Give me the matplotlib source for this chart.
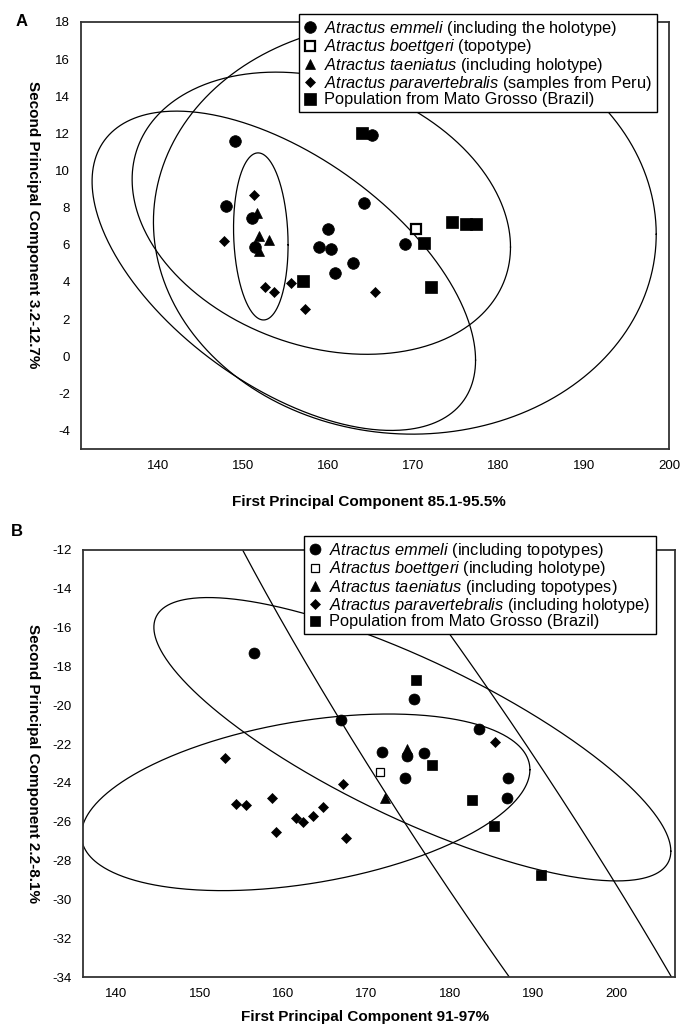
import numpy as np
import matplotlib
matplotlib.use('Agg')
import matplotlib.pyplot as plt

plt.rcParams['font.family'] = ['Liberation Sans', 'DejaVu Sans']
plt.rcParams['mathtext.fontset'] = 'custom'
plt.rcParams['mathtext.rm'] = 'Liberation Sans'
plt.rcParams['mathtext.it'] = 'Liberation Sans:italic'
plt.rcParams['axes.unicode_minus'] = False

# ---------------- panel A data ----------------
a_emmeli_x = [149.1, 165.1, 148.0, 151.1, 164.2, 160.0, 151.4, 158.9, 160.3, 162.9, 160.8, 169.0]
a_emmeli_y = [11.6, 11.9, 8.1, 7.45, 8.25, 6.85, 5.9, 5.9, 5.75, 5.0, 4.5, 6.05]
a_boett_x = [170.3]
a_boett_y = [6.87]
a_taen_x = [151.7, 151.9, 153.1, 151.9]
a_taen_y = [7.7, 6.45, 6.25, 5.65]
a_para_x = [151.3, 147.8, 155.6, 152.6, 153.6, 157.3, 165.5]
a_para_y = [8.7, 6.2, 3.95, 3.7, 3.45, 2.55, 3.45]
a_mato_x = [164.0, 157.0, 171.3, 174.5, 176.2, 177.3, 172.1]
a_mato_y = [12.0, 4.05, 6.1, 7.25, 7.14, 7.14, 3.7]
# ellipses: centre x, centre y, half width, half height, correlation
a_ell_cx = [152.1, 154.8, 159.2, 169.0]
a_ell_cy = [6.45, 4.6, 7.7, 6.9]
a_ell_rx = [3.2, 22.5, 22.2, 29.5]
a_ell_ry = [4.5, 8.6, 7.6, 11.1]
a_ell_rho = [-0.1, -0.56, -0.24, -0.03]
a_labels = [r'$\mathit{Atractus\ emmeli}$ (including the holotype)',
            r'$\mathit{Atractus\ boettgeri}$ (topotype)',
            r'$\mathit{Atractus\ taeniatus}$ (including holotype)',
            r'$\mathit{Atractus\ paravertebralis}$ (samples from Peru)',
            'Population from Mato Grosso (Brazil)']

# ---------------- panel B data ----------------
b_emmeli_x = [156.5, 167.0, 171.85, 175.7, 183.5, 174.8, 176.85, 174.6, 187.0, 186.8]
b_emmeli_y = [-17.3, -20.76, -22.4, -19.66, -21.2, -22.6, -22.47, -23.76, -23.76, -24.8]
b_boett_x = [171.6]
b_boett_y = [-23.45]
b_taen_x = [174.85, 172.25]
b_taen_y = [-22.25, -24.78]
b_para_x = [153.0, 154.4, 155.5, 158.7, 159.2, 161.5, 162.4, 163.6, 164.8, 167.15, 167.6, 185.45]
b_para_y = [-22.7, -25.1, -25.15, -24.8, -26.55, -25.8, -26.0, -25.7, -25.25, -24.05, -26.85, -21.9]
b_mato_x = [175.9, 177.8, 182.6, 185.3, 190.9]
b_mato_y = [-18.7, -23.1, -24.9, -26.2, -28.75]
b_ell_cx = [162.7, 175.5, 184.1]
b_ell_cy = [-25.0, -21.75, -25.5]
b_ell_rx = [26.9, 31.0, 38.9]
b_ell_ry = [4.55, 7.3, 25.0]
b_ell_rho = [0.37, -0.79, -0.964]
b_labels = [r'$\mathit{Atractus\ emmeli}$ (including topotypes)',
            r'$\mathit{Atractus\ boettgeri}$ (including holotype)',
            r'$\mathit{Atractus\ taeniatus}$ (including topotypes)',
            r'$\mathit{Atractus\ paravertebralis}$ (including holotype)',
            'Population from Mato Grosso (Brazil)']


def ellipse_xy(cx, cy, rx, ry, rho, n=600):
    t = np.linspace(0, 2 * np.pi, n)
    x = cx + rx * np.cos(t)
    y = cy + ry * (rho * np.cos(t) + np.sqrt(1 - rho ** 2) * np.sin(t))
    return x, y


def style_axes(ax, xlim, ylim, yticks):
    ax.set_xlim(*xlim)
    ax.set_ylim(*ylim)
    ax.set_xticks(range(140, 201, 10))
    ax.set_yticks(yticks)
    ax.tick_params(length=0, labelsize=9.5, pad=8)
    for sp in ax.spines.values():
        sp.set_color('#333333')
        sp.set_linewidth(1.3)


def draw_panel(ax, groups, ell, sizes, open_mew):
    cx, cy, rx, ry, rho = ell
    for i in range(len(cx)):
        ex, ey = ellipse_xy(cx[i], cy[i], rx[i], ry[i], rho[i])
        ax.plot(ex, ey, color='black', lw=0.9)
    markers = ['o', 's', '^', 'D', 's']
    handles = []
    for (gx, gy), m, ms, k in zip(groups, markers, sizes, range(5)):
        fc = 'white' if k == 1 else 'black'
        h, = ax.plot(gx, gy, ls='none', marker=m, ms=ms, mfc=fc, mec='black',
                     mew=open_mew if k == 1 else 0.5, zorder=3 + k)
        handles.append(h)
    return handles


def add_legend(ax, handles, labels, x0, y0):
    leg = ax.legend(handles, labels, loc='upper left', bbox_to_anchor=(x0 / W, 1 - y0 / H),
                    bbox_transform=fig.transFigure, fancybox=False, edgecolor='black',
                    framealpha=1, fontsize=11.75, borderpad=0.3, labelspacing=-0.04,
                    handlelength=0.8, handletextpad=0.45, borderaxespad=0)
    leg.get_frame().set_linewidth(1.0)
    leg.set_zorder(20)
    return leg


fig = plt.figure(figsize=(6.81, 10.27), dpi=100)
W, H = 681.0, 1027.0

# panel A
axA = fig.add_axes([81 / W, 1 - 449 / H, (669 - 81) / W, (449 - 22) / H])
hA = draw_panel(axA,
                [(a_emmeli_x, a_emmeli_y), (a_boett_x, a_boett_y), (a_taen_x, a_taen_y),
                 (a_para_x, a_para_y), (a_mato_x, a_mato_y)],
                (a_ell_cx, a_ell_cy, a_ell_rx, a_ell_ry, a_ell_rho),
                [8.4, 7.0, 7.4, 5.5, 8], 1.6)
style_axes(axA, (131, 200), (-5, 18), range(-4, 19, 2))
add_legend(axA, hA, a_labels, 299, 14)

fig.text(369 / W, 1 - 502 / H, 'First Principal Component 85.1-95.5%',
         ha='center', va='center', fontsize=11, fontweight='bold')
fig.text(33 / W, 1 - 225 / H, 'Second Principal Component 3.2-12.7%',
         ha='center', va='center', rotation=270, fontsize=11, fontweight='bold')
fig.text(22 / W, 1 - 22 / H, 'A', ha='center', va='center', fontsize=12, fontweight='bold')

# panel B
axB = fig.add_axes([83 / W, 1 - 977 / H, (675 - 83) / W, (977 - 550) / H])
hB = draw_panel(axB,
                [(b_emmeli_x, b_emmeli_y), (b_boett_x, b_boett_y), (b_taen_x, b_taen_y),
                 (b_para_x, b_para_y), (b_mato_x, b_mato_y)],
                (b_ell_cx, b_ell_cy, b_ell_rx, b_ell_ry, b_ell_rho),
                [7.9, 5.8, 7.0, 5.1, 7.7], 0.9)
style_axes(axB, (136, 207), (-34, -12), range(-34, -11, 2))
add_legend(axB, hB, b_labels, 304, 536)

fig.text(365 / W, 1 - 1017 / H, 'First Principal Component 91-97%',
         ha='center', va='center', fontsize=11, fontweight='bold')
fig.text(33 / W, 1 - 763 / H, 'Second Principal Component 2.2-8.1%',
         ha='center', va='center', rotation=270, fontsize=11, fontweight='bold')
fig.text(17 / W, 1 - 532 / H, 'B', ha='center', va='center', fontsize=12, fontweight='bold')

fig.savefig('out.png', dpi=100, facecolor='white')
